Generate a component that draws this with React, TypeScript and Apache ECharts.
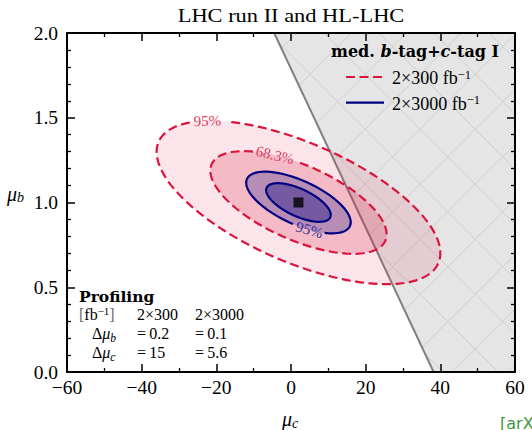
import { useEffect, useRef } from 'react';
import * as echarts from 'echarts';

// ---------------- data ----------------
const TITLE = 'LHC run II and HL-LHC';
const X_MIN = -60;
const X_MAX = 60;
const X_INTERVAL = 20;
const Y_MIN = 0;
const Y_MAX = 2;
const Y_INTERVAL = 0.5;

const lumiShort = ['2×300', '2×3000'];
const lumiUnit = 'fb';
const clLevels = ['95%', '68.3%'];
const bestFit = [2.0, 1.0];
// half extent of each contour along mu_c and mu_b: [luminosity][level]
const halfWidthMuC = [
  [38.0, 23.6],
  [14.0, 8.65],
];
const halfHeightMuB = [
  [0.482, 0.303],
  [0.182, 0.114],
];
const correlation = [-0.62, -0.64];
const deltaMuB = ['0.2', '0.1'];
const deltaMuC = ['15', '5.6'];
// boundary of the excluded (grey) region: [mu_c, mu_b]
const excludedEdge = [
  [-4.5, 2.0],
  [38.2, 0.0],
];
// labelled contours: [luminosity, level, gapStartDeg, gapEndDeg]
const contourLabels = [
  [0, 0, 120, 140],
  [0, 1, 90, 121],
  [1, 0, 264, 300],
];

// ---------------- styles ----------------
const SERIF = 'Liberation Serif';
const BOLDSERIF = 'DejaVu Serif';
const lineColors = ['#dc143c', '#000080'];
const labelColors = ['#e03a5c', '#30309a'];
const fillColors = [
  ['rgba(220,20,60,0.11)', 'rgba(220,20,60,0.2)'],
  ['rgba(0,0,128,0.25)', 'rgba(0,0,128,0.36)'],
];

type TOpt = {
  size: number;
  family?: string;
  italic?: boolean;
  bold?: boolean;
  color?: string;
  align?: string;
  scaleX?: number;
};

let measureCtx: CanvasRenderingContext2D | null = null;
function cssFont(o: TOpt) {
  return `${o.italic ? 'italic ' : ''}${o.bold ? 'bold ' : ''}${o.size}px "${o.family ?? SERIF}"`;
}
function textWidth(text: string, o: TOpt) {
  if (!measureCtx) {
    measureCtx = document.createElement('canvas').getContext('2d');
  }
  if (!measureCtx) return text.length * o.size * 0.5;
  measureCtx.font = cssFont(o);
  return measureCtx.measureText(text).width;
}
function txt(text: string, x: number, y: number, o: TOpt) {
  return {
    type: 'text',
    x,
    y,
    scaleX: o.scaleX ?? 1,
    z: 100,
    silent: true,
    style: {
      text,
      fontSize: o.size,
      fontFamily: o.family ?? SERIF,
      fontStyle: o.italic ? 'italic' : 'normal',
      fontWeight: o.bold ? 'bold' : 'normal',
      fill: o.color ?? '#000',
      align: o.align ?? 'left',
      verticalAlign: 'middle',
    },
  };
}
type Part = [string, TOpt, number];
function seq(x0: number, parts: Part[]) {
  let x = x0;
  const out: any[] = [];
  for (const [text, o, y] of parts) {
    out.push(txt(text, x, y, o));
    x += textWidth(text, o) * (o.scaleX ?? 1);
  }
  return out;
}

function clipLine(ax: number, ay: number, dx: number, dy: number, poly: number[][]) {
  const ts: number[] = [];
  for (let i = 0; i < poly.length; i++) {
    const [x1, y1] = poly[i];
    const [x2, y2] = poly[(i + 1) % poly.length];
    const ex = x2 - x1;
    const ey = y2 - y1;
    const den = dx * ey - dy * ex;
    if (Math.abs(den) < 1e-9) continue;
    const wx = x1 - ax;
    const wy = y1 - ay;
    const t = (wx * ey - wy * ex) / den;
    const u = (wx * dy - wy * dx) / den;
    if (u >= -1e-9 && u <= 1 + 1e-9) ts.push(t);
  }
  if (ts.length < 2) return null;
  const t0 = Math.min(...ts);
  const t1 = Math.max(...ts);
  if (t1 - t0 < 1e-6) return null;
  return [ax + t0 * dx, ay + t0 * dy, ax + t1 * dx, ay + t1 * dy];
}

function buildOption() {
  const frameLine = { show: true, onZero: false, lineStyle: { color: '#000', width: 2 } };
  const tick = { show: true, inside: true, length: 8, lineStyle: { color: '#000', width: 1.5 } };
  const minor = (n: number) => ({ show: true, splitNumber: n, length: 4, lineStyle: { color: '#000', width: 1.3 } });
  const labelFont = { fontFamily: SERIF, fontSize: 19.5, color: '#000' };
  const fmtX = (v: number) => (v < 0 ? '\u2212' + Math.abs(v) : String(v));

  const graphics: any[] = [];
  graphics.push(txt(TITLE, 291, 16, { size: 19.5, align: 'center', scaleX: 1.15 }));
  // axis names
  graphics.push(
    ...seq(7, [
      ['μ', { size: 20, italic: true }, 194],
      ['b', { size: 14, italic: true }, 197.5],
    ])
  );
  graphics.push(
    ...seq(282, [
      ['μ', { size: 20, italic: true }, 418.5],
      ['c', { size: 14, italic: true }, 423],
    ])
  );
  graphics.push(txt('[arXiv]', 500, 423, { size: 16, family: 'DejaVu Sans', color: '#3c9a3c' }));

  // legend
  const hb: TOpt = { size: 16, family: BOLDSERIF, bold: true };
  const hbi: TOpt = { size: 16, family: BOLDSERIF, bold: true, italic: true };
  graphics.push(
    ...seq(331, [
      ['med. ', hb, 51],
      ['b', hbi, 51],
      ['-tag+', hb, 51],
      ['c', hbi, 51],
      ['-tag I', hb, 51],
    ])
  );
  const legendY = [77, 102.7];
  lumiShort.forEach((lab, i) => {
    graphics.push({
      type: 'line',
      z: 100,
      silent: true,
      shape: { x1: 346, y1: legendY[i], x2: 384, y2: legendY[i] },
      style: { stroke: lineColors[i], lineWidth: 2.2, lineDash: i === 0 ? [9, 4.5] : null },
    });
    graphics.push(
      ...seq(392, [
        [lab + ' ' + lumiUnit, { size: 18 }, legendY[i] + 1],
        ['\u22121', { size: 12.5 }, legendY[i] - 2.5],
      ])
    );
  });

  // profiling table
  graphics.push(txt('Profiling', 79, 296.5, { size: 15.5, family: BOLDSERIF, bold: true }));
  const tf: TOpt = { size: 16 };
  graphics.push(
    ...seq(79, [
      ['[', { size: 16, color: '#666' }, 314],
      [lumiUnit, tf, 314],
      ['\u22121', { size: 11 }, 310.5],
      [']', { size: 16, color: '#666' }, 314],
    ])
  );
  const colX = [137, 195];
  lumiShort.forEach((lab, i) => graphics.push(txt(lab, colX[i], 314, tf)));
  const rows: [string, string[], number][] = [
    ['b', deltaMuB, 333.5],
    ['c', deltaMuC, 352.5],
  ];
  rows.forEach(([sub, vals, y]) => {
    graphics.push(
      ...seq(92, [
        ['Δ', tf, y],
        ['μ', { size: 16, italic: true }, y],
        [sub, { size: 11.5, italic: true }, y + 4],
      ])
    );
    vals.forEach((v, i) => graphics.push(txt('=\u2009' + v, colX[i], y, tf)));
  });

  const ellipseData = [
    [0, 0],
    [0, 1],
    [1, 0],
    [1, 1],
  ];

  return {
    animation: false,
    backgroundColor: '#fff',
    grid: { left: 67, top: 33, width: 448, height: 339, containLabel: false, outerBoundsMode: 'none' },
    xAxis: [
      {
        type: 'value',
        min: X_MIN,
        max: X_MAX,
        interval: X_INTERVAL,
        position: 'bottom',
        z: 10,
        axisLine: frameLine,
        axisTick: tick,
        minorTick: minor(2),
        splitLine: { show: false },
        minorSplitLine: { show: false },
        axisLabel: { ...labelFont, margin: 5, formatter: fmtX, showMinLabel: true, showMaxLabel: true },
      },
      {
        type: 'value',
        min: X_MIN,
        max: X_MAX,
        interval: X_INTERVAL,
        position: 'top',
        z: 10,
        axisLine: frameLine,
        axisTick: tick,
        minorTick: minor(2),
        splitLine: { show: false },
        axisLabel: { show: false },
      },
    ],
    yAxis: [
      {
        type: 'value',
        min: Y_MIN,
        max: Y_MAX,
        interval: Y_INTERVAL,
        position: 'left',
        z: 10,
        axisLine: frameLine,
        axisTick: tick,
        minorTick: minor(5),
        splitLine: { show: false },
        minorSplitLine: { show: false },
        axisLabel: { ...labelFont, margin: 9, formatter: (v: number) => v.toFixed(1), showMinLabel: true, showMaxLabel: true },
      },
      {
        type: 'value',
        min: Y_MIN,
        max: Y_MAX,
        interval: Y_INTERVAL,
        position: 'right',
        z: 10,
        axisLine: frameLine,
        axisTick: tick,
        minorTick: minor(5),
        splitLine: { show: false },
        axisLabel: { show: false },
      },
    ],
    series: [
      {
        type: 'custom',
        name: 'excluded',
        coordinateSystem: 'cartesian2d',
        xAxisIndex: 0,
        yAxisIndex: 0,
        z: 1,
        clip: true,
        silent: true,
        data: [excludedEdge[0]],
        renderItem: (_p: any, api: any) => {
          const poly = [
            api.coord(excludedEdge[0]),
            api.coord(excludedEdge[1]),
            api.coord([X_MAX, Y_MIN]),
            api.coord([X_MAX, Y_MAX]),
          ];
          const children: any[] = [
            { type: 'polygon', shape: { points: poly }, style: { fill: '#e5e5e5', stroke: 'none' } },
          ];
          const families = [
            { off: 16, dx: 1, dy: 1, key: (p: number[]) => p[0] - p[1] },
            { off: 54.4, dx: 1, dy: -1, key: (p: number[]) => p[0] + p[1] },
          ];
          const period = 55;
          families.forEach((f) => {
            const ks = poly.map(f.key);
            const kmin = Math.min(...ks);
            const kmax = Math.max(...ks);
            let c = f.off + Math.ceil((kmin - f.off) / period) * period;
            for (; c <= kmax; c += period) {
              const seg = clipLine(c, 0, f.dx, f.dy, poly);
              if (seg) {
                children.push({
                  type: 'line',
                  shape: { x1: seg[0], y1: seg[1], x2: seg[2], y2: seg[3] },
                  style: { stroke: '#cfcfcf', lineWidth: 1 },
                });
              }
            }
          });
          children.push({
            type: 'line',
            shape: { x1: poly[0][0], y1: poly[0][1], x2: poly[1][0], y2: poly[1][1] },
            style: { stroke: '#808080', lineWidth: 2 },
          });
          return { type: 'group', children };
        },
      },
      {
        type: 'custom',
        name: 'contours',
        coordinateSystem: 'cartesian2d',
        xAxisIndex: 0,
        yAxisIndex: 0,
        z: 2,
        clip: true,
        silent: true,
        data: ellipseData,
        renderItem: (_p: any, api: any) => {
          const li = api.value(0) as number;
          const ci = api.value(1) as number;
          const hx = halfWidthMuC[li][ci];
          const hy = halfHeightMuB[li][ci];
          const rho = correlation[li];
          const s = Math.sqrt(1 - rho * rho);
          const at = (deg: number) => {
            const r = (deg * Math.PI) / 180;
            return api.coord([
              bestFit[0] + hx * Math.cos(r),
              bestFit[1] + hy * (rho * Math.cos(r) + s * Math.sin(r)),
            ]);
          };
          const ring: number[][] = [];
          for (let d = 0; d < 360; d += 2) ring.push(at(d));
          const children: any[] = [
            { type: 'polygon', shape: { points: ring }, style: { fill: fillColors[li][ci], stroke: 'none' } },
          ];
          const lineStyle: any = {
            stroke: lineColors[li],
            lineWidth: 2.2,
            fill: 'none',
            lineDash: li === 0 ? [9, 4.5] : null,
          };
          const lab = contourLabels.find((c) => c[0] === li && c[1] === ci);
          if (lab) {
            const g0 = lab[2];
            const g1 = lab[3];
            const pts: number[][] = [];
            for (let d = g1; d < g0 + 360; d += 2) pts.push(at(d));
            pts.push(at(g0 + 360));
            children.push({ type: 'polyline', shape: { points: pts }, style: lineStyle });
            const mid = (g0 + g1) / 2;
            const p = at(mid);
            const pa = at(mid - 1);
            const pb = at(mid + 1);
            let ang = Math.atan2(-(pb[1] - pa[1]), pb[0] - pa[0]);
            if (ang > Math.PI / 2) ang -= Math.PI;
            if (ang < -Math.PI / 2) ang += Math.PI;
            children.push({
              type: 'text',
              x: p[0],
              y: p[1],
              rotation: ang,
              style: {
                text: clLevels[ci],
                fill: labelColors[li],
                fontFamily: SERIF,
                fontSize: 15,
                align: 'center',
                verticalAlign: 'middle',
              },
            });
          } else {
            children.push({ type: 'polygon', shape: { points: ring }, style: lineStyle });
          }
          return { type: 'group', children };
        },
      },
      {
        type: 'scatter',
        name: 'best fit',
        xAxisIndex: 0,
        yAxisIndex: 0,
        z: 3,
        silent: true,
        symbol: 'rect',
        symbolSize: 10,
        itemStyle: { color: '#000' },
        data: [bestFit],
      },
    ],
    graphic: { elements: graphics },
  };
}

export default function App() {
  const ref = useRef<HTMLDivElement>(null);
  useEffect(() => {
    if (!ref.current) return;
    const chart = echarts.init(ref.current, null, { renderer: 'svg' });
    chart.setOption(buildOption() as any);
    return () => chart.dispose();
  }, []);
  return (
    <div
      ref={ref}
      style={{ position: 'absolute', left: 0, top: 0, width: 532, height: 430, background: '#fff' }}
    />
  );
}
